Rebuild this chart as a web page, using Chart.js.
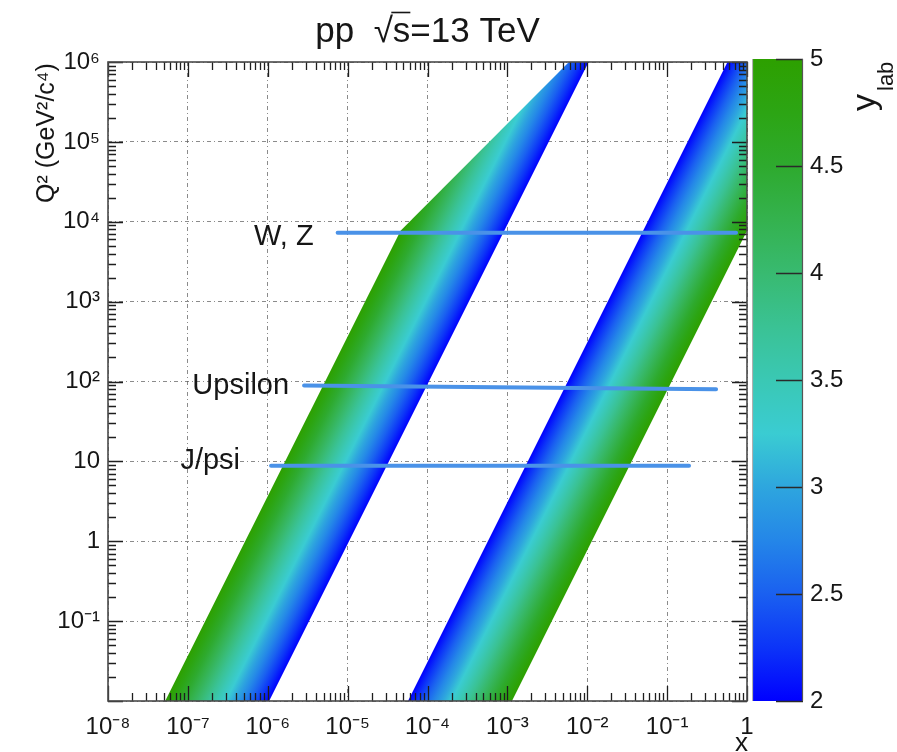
<!DOCTYPE html>
<html><head><meta charset="utf-8">
<script src="https://cdn.jsdelivr.net/npm/chart.js@4.4.1/dist/chart.umd.min.js"></script>
<style>
html,body{margin:0;padding:0;background:#fff;overflow:hidden}
#wrap{position:relative;width:897px;height:752px;background:#fff}
#main{position:absolute;left:0;top:0}
#cbar{position:absolute;left:752px;top:0}
</style></head>
<body><div id="wrap"><canvas id="main" width="897" height="752"></canvas><canvas id="cbar" width="145" height="752"></canvas></div>
<script>
// ---------------- data ----------------
const xTickDecades = [-8, -7, -6, -5, -4, -3, -2, -1, 0];
const yTickDecades = [-2, -1, 0, 1, 2, 3, 4, 5, 6];
const xLabelDecades = [-8, -7, -6, -5, -4, -3, -2, -1, 0];
const yLabelDecades = [-1, 0, 1, 2, 3, 4, 5, 6];
const colorbarTicks = [2, 2.5, 3, 3.5, 4, 4.5, 5];
const rapidityRange = [2, 5];

// band edges, ordered from top (Q2 = 1e6) to bottom (Q2 = 0.01)
const lowXOuterX  = [5.9e-3, 4.6e-5, 5.2e-8];   // y_lab = 5 side (green)
const lowXOuterQ2 = [1e6, 7700, 0.01];
const lowXInnerX  = [1.04e-2, 1.04e-6];         // y_lab = 2 side (blue)
const lowXInnerQ2 = [1e6, 0.01];
const highXInnerX  = [0.57, 5.7e-5];            // y_lab = 2 side (blue)
const highXInnerQ2 = [1e6, 0.01];
const highXOuterX  = [1, 1, 1.14e-3];           // y_lab = 5 side (green)
const highXOuterQ2 = [1e6, 7700, 0.01];

// resonance lines
const resonanceNames   = ['W, Z', 'Upsilon', 'J/psi'];
const resonanceXStart  = [7.5e-6, 2.85e-6, 1.1e-6];
const resonanceXEnd    = [0.73, 0.41, 0.188];
const resonanceQ2Start = [7300, 89, 8.8];
const resonanceQ2End   = [7300, 80, 8.8];

// ---------------- style ----------------
const FONT = '"Liberation Sans", Arial, Helvetica, sans-serif';
const paletteY = [2, 2.25, 2.5, 2.75, 3, 3.25, 3.5, 3.75, 4, 4.25, 4.5, 4.75, 5];
const paletteRGB = ['rgb(0,0,255)', 'rgb(12,52,248)', 'rgb(26,96,240)', 'rgb(36,134,232)',
  'rgb(46,166,222)', 'rgb(58,204,210)', 'rgb(58,200,180)', 'rgb(58,194,148)', 'rgb(56,186,112)',
  'rgb(52,178,78)', 'rgb(46,170,46)', 'rgb(44,165,20)', 'rgb(45,160,0)'];
const labelDx = [-24, -15, -31];
const labelDy = [12, 8, 3];

const SUP = {'-': '\u207B', '0': '\u2070', '1': '\u00B9', '2': '\u00B2', '3': '\u00B3', '4': '\u2074',
  '5': '\u2075', '6': '\u2076', '7': '\u2077', '8': '\u2078', '9': '\u2079'};
function powLabel(e) {
  if (e === 0) return '1';
  if (e === 1) return '10';
  return '10' + String(e).split('').map(c => SUP[c]).join('');
}
function decadeOf(v) {
  const e = Math.round(Math.log10(v));
  return Math.abs(v / Math.pow(10, e) - 1) < 1e-6 ? e : null;
}
function buildLogTicks(decades) {
  const t = [];
  decades.forEach((e, i) => {
    for (let m = 1; m <= 9; m++) {
      if (i === decades.length - 1 && m > 1) break;
      t.push({value: m * Math.pow(10, e)});
    }
  });
  return t;
}
function pts(xs, qs) { return xs.map((x, i) => ({x: x, y: qs[i]})); }

function addPalette(g) {
  paletteY.forEach((v, i) => g.addColorStop((v - rapidityRange[0]) / (rapidityRange[1] - rapidityRange[0]), paletteRGB[i]));
  return g;
}
// linear gradient across a band: perpendicular to the constant-y_lab edges
function bandGradient(chart, innerXs, innerQs, outerX, outerQ) {
  const sx = chart.scales.x, sy = chart.scales.y;
  const p = {x: sx.getPixelForValue(innerXs[0]), y: sy.getPixelForValue(innerQs[0])};
  const q = {x: sx.getPixelForValue(innerXs[1]), y: sy.getPixelForValue(innerQs[1])};
  const o = {x: sx.getPixelForValue(outerX), y: sy.getPixelForValue(outerQ)};
  const ux = q.x - p.x, uy = q.y - p.y, L = Math.hypot(ux, uy);
  const nx = -uy / L, ny = ux / L;
  const d = (o.x - p.x) * nx + (o.y - p.y) * ny;
  return addPalette(chart.ctx.createLinearGradient(p.x, p.y, p.x + nx * d, p.y + ny * d));
}

const lineColor = 'rgb(74,146,232)';
const datasets = [];
resonanceNames.forEach((n, i) => {
  datasets.push({
    label: n,
    data: [{x: resonanceXStart[i], y: resonanceQ2Start[i]}, {x: resonanceXEnd[i], y: resonanceQ2End[i]}],
    borderColor: lineColor, borderWidth: 4, pointRadius: 0, fill: false, order: 0, borderCapStyle: 'round'
  });
});
datasets.push({
  label: 'low-x band',
  data: pts(lowXOuterX, lowXOuterQ2),
  borderColor: 'rgba(0,0,0,0)', borderWidth: 0, pointRadius: 0, fill: '+1', order: 1,
  backgroundColor: (c) => {
    const ch = c.chart;
    if (!ch.chartArea) return 'rgba(0,0,0,0)';
    return bandGradient(ch, lowXInnerX, lowXInnerQ2, lowXOuterX[2], lowXOuterQ2[2]);
  }
});
datasets.push({
  label: 'low-x inner', data: pts(lowXInnerX, lowXInnerQ2),
  borderColor: 'rgba(0,0,0,0)', borderWidth: 0, pointRadius: 0, fill: false, order: 1
});
datasets.push({
  label: 'high-x band',
  data: pts(highXInnerX, highXInnerQ2),
  borderColor: 'rgba(0,0,0,0)', borderWidth: 0, pointRadius: 0, fill: '+1', order: 1,
  backgroundColor: (c) => {
    const ch = c.chart;
    if (!ch.chartArea) return 'rgba(0,0,0,0)';
    return bandGradient(ch, highXInnerX, highXInnerQ2, highXOuterX[2], highXOuterQ2[2]);
  }
});
datasets.push({
  label: 'high-x outer', data: pts(highXOuterX, highXOuterQ2),
  borderColor: 'rgba(0,0,0,0)', borderWidth: 0, pointRadius: 0, fill: false, order: 1
});

const mainDecor = {
  id: 'mainDecor',
  afterDraw(chart) {
    const {ctx, chartArea: a, scales: {x, y}} = chart;
    ctx.save();
    // inner ticks on all four sides
    ctx.strokeStyle = '#1e1e1e';
    ctx.lineWidth = 1.3;
    ctx.beginPath();
    x.ticks.forEach(t => {
      const p = Math.round(x.getPixelForValue(t.value)) + 0.5;
      const L = decadeOf(t.value) !== null ? 15 : 8;
      ctx.moveTo(p, a.bottom); ctx.lineTo(p, a.bottom - L);
      ctx.moveTo(p, a.top); ctx.lineTo(p, a.top + L);
    });
    y.ticks.forEach(t => {
      const p = Math.round(y.getPixelForValue(t.value)) + 0.5;
      const L = decadeOf(t.value) !== null ? 15 : 8;
      ctx.moveTo(a.left, p); ctx.lineTo(a.left + L, p);
      ctx.moveTo(a.right, p); ctx.lineTo(a.right - L, p);
    });
    ctx.stroke();
    // frame
    ctx.strokeStyle = '#4a4a4a';
    ctx.lineWidth = 1.6;
    ctx.strokeRect(a.left, a.top, a.right - a.left, a.bottom - a.top);

    // resonance labels
    ctx.fillStyle = '#161616';
    ctx.font = '29px ' + FONT;
    ctx.textAlign = 'right';
    ctx.textBaseline = 'alphabetic';
    resonanceNames.forEach((n, i) => {
      const px = x.getPixelForValue(resonanceXStart[i]);
      const py = y.getPixelForValue(resonanceQ2Start[i]);
      ctx.fillText(n, px + labelDx[i], py + labelDy[i]);
    });

    // title  pp  sqrt(s)=13 TeV
    ctx.font = '35px ' + FONT;
    ctx.textAlign = 'left';
    const parts = ['pp  ', '\u221A', 's', '=13 TeV'];
    const w = parts.map(p => ctx.measureText(p).width);
    const total = w.reduce((s, v) => s + v, 0);
    let tx = (a.left + a.right) / 2 - total / 2;
    const base = 42;
    ctx.fillText(parts[0], tx, base); tx += w[0];
    ctx.fillText(parts[1], tx, base);
    const ovStart = tx + w[1] * 0.92; tx += w[1];
    ctx.fillText(parts[2], tx, base);
    const ovEnd = tx + w[2]; tx += w[2];
    ctx.fillText(parts[3], tx, base);
    ctx.strokeStyle = '#161616';
    ctx.lineWidth = 1.6;
    ctx.beginPath();
    ctx.moveTo(ovStart, 12.5); ctx.lineTo(ovEnd, 12.5);
    ctx.stroke();

    // y axis title
    ctx.save();
    ctx.translate(54, 203);
    ctx.rotate(-Math.PI / 2);
    ctx.font = '25px ' + FONT;
    ctx.textAlign = 'left';
    ctx.fillText('Q\u00B2 (GeV\u00B2/c\u2074)', 0, 0);
    ctx.restore();

    // x axis title
    ctx.font = '26px ' + FONT;
    ctx.textAlign = 'right';
    ctx.fillText('x', a.right + 1, 751);
    ctx.restore();
  }
};

new Chart(document.getElementById('main'), {
  type: 'line',
  data: {datasets: datasets},
  options: {
    responsive: false, devicePixelRatio: 1, animation: false, events: [],
    indexAxis: 'y',
    layout: {padding: {left: 0, right: 150, top: 62, bottom: 0}},
    plugins: {legend: {display: false}, tooltip: {enabled: false}, title: {display: false}},
    scales: {
      x: {
        type: 'logarithmic', min: 1e-8, max: 1, z: 1,
        afterBuildTicks: s => { s.ticks = buildLogTicks(xTickDecades); },
        afterFit: s => { s.height = 51; },
        ticks: {
          autoSkip: false, maxRotation: 0, minRotation: 0, padding: 12, color: '#161616',
          font: {family: FONT, size: 24},
          callback: v => { const e = decadeOf(v); return (e !== null && xLabelDecades.includes(e)) ? powLabel(e) : ''; }
        },
        grid: {drawTicks: false, lineWidth: 1,
          color: c => (c.tick && decadeOf(c.tick.value) !== null) ? 'rgba(90,90,90,0.7)' : 'rgba(0,0,0,0)'},
        border: {display: false, dash: [4, 3, 1, 3]}
      },
      y: {
        type: 'logarithmic', min: 0.01, max: 1e6, z: 1,
        afterBuildTicks: s => { s.ticks = buildLogTicks(yTickDecades); },
        afterFit: s => { s.width = 108; },
        ticks: {
          autoSkip: false, padding: 8, color: '#161616',
          font: {family: FONT, size: 24},
          callback: v => { const e = decadeOf(v); return (e !== null && yLabelDecades.includes(e)) ? powLabel(e) : ''; }
        },
        grid: {drawTicks: false, lineWidth: 1,
          color: c => (c.tick && decadeOf(c.tick.value) !== null) ? 'rgba(90,90,90,0.7)' : 'rgba(0,0,0,0)'},
        border: {display: false, dash: [4, 3, 1, 3]}
      }
    }
  },
  plugins: [mainDecor]
});

// ---------------- colour bar ----------------
const cbarDecor = {
  id: 'cbarDecor',
  afterDraw(chart) {
    const {ctx, chartArea: a, scales: {y}} = chart;
    ctx.save();
    ctx.strokeStyle = '#2a2a2a';
    ctx.lineWidth = 1.3;
    ctx.beginPath();
    colorbarTicks.forEach(v => {
      const p = Math.round(y.getPixelForValue(v)) + 0.5;
      ctx.moveTo(a.right - 27, p); ctx.lineTo(a.right, p);
    });
    ctx.stroke();
    ctx.lineWidth = 1.2;
    ctx.strokeStyle = '#b0b0b0';
    ctx.beginPath(); ctx.moveTo(a.left + 0.5, a.top); ctx.lineTo(a.left + 0.5, a.bottom); ctx.stroke();
    ctx.strokeStyle = '#555';
    ctx.beginPath(); ctx.moveTo(a.right - 0.5, a.top); ctx.lineTo(a.right - 0.5, a.bottom); ctx.stroke();

    // title y_lab (rotated)
    ctx.fillStyle = '#161616';
    ctx.translate(123, 111);
    ctx.rotate(-Math.PI / 2);
    ctx.textAlign = 'left';
    ctx.font = '34px ' + FONT;
    ctx.fillText('y', 0, 0);
    const wy = ctx.measureText('y').width;
    ctx.font = '22px ' + FONT;
    ctx.fillText('lab', wy + 3, 18);
    ctx.restore();
  }
};

new Chart(document.getElementById('cbar'), {
  type: 'bar',
  data: {
    labels: ['y_lab'],
    datasets: [{
      label: 'y_lab', data: [rapidityRange], borderWidth: 0, barPercentage: 1, categoryPercentage: 1,
      backgroundColor: (c) => {
        const ch = c.chart;
        if (!ch.chartArea) return 'rgba(0,0,0,0)';
        const sy = ch.scales.y;
        return addPalette(ch.ctx.createLinearGradient(0, sy.getPixelForValue(rapidityRange[0]), 0, sy.getPixelForValue(rapidityRange[1])));
      }
    }]
  },
  options: {
    responsive: false, devicePixelRatio: 1, animation: false, events: [],
    layout: {padding: {left: 0, right: 0, top: 59, bottom: 51}},
    plugins: {legend: {display: false}, tooltip: {enabled: false}},
    scales: {
      x: {display: false},
      y: {
        position: 'right', min: 2, max: 5,
        afterBuildTicks: s => { s.ticks = colorbarTicks.map(v => ({value: v})); },
        afterFit: s => { s.width = 94; },
        ticks: {padding: 7, color: '#161616', font: {family: FONT, size: 24}, callback: v => String(v)},
        grid: {display: false, drawTicks: false},
        border: {display: false}
      }
    }
  },
  plugins: [cbarDecor]
});
</script>
</body></html>
